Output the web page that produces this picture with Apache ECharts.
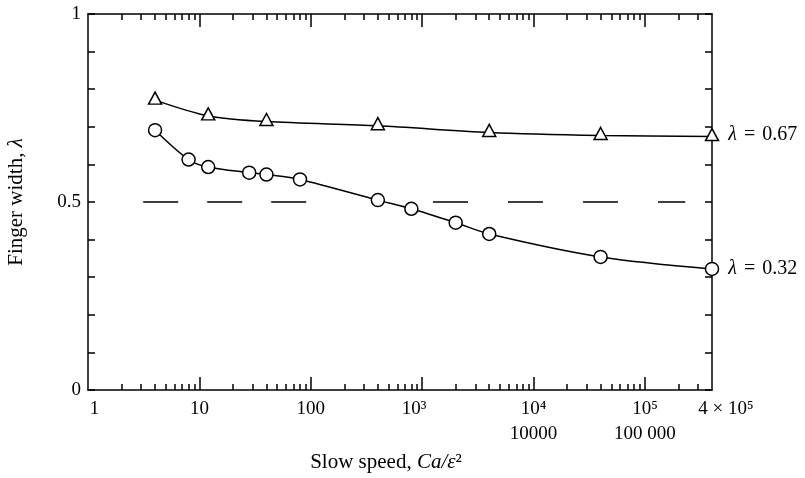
<!DOCTYPE html>
<html><head><meta charset="utf-8">
<script src="https://cdn.jsdelivr.net/npm/echarts@6/dist/echarts.min.js"></script>
<style>html,body{margin:0;padding:0;background:#fff}#c{width:805px;height:478px}</style>
</head><body><div id="c"></div>
<script>
// ---- data ----
const triX = [4, 12, 40, 400, 4000, 40000, 400000];
const triY = [0.771, 0.729, 0.714, 0.703, 0.685, 0.677, 0.674];
const circX = [4, 8, 12, 28, 40, 80, 400, 800, 2000, 4000, 40000, 400000];
const circY = [0.691, 0.613, 0.593, 0.578, 0.573, 0.560, 0.505, 0.482, 0.445, 0.415, 0.354, 0.322];
const dashX1 = [3.13, 98];
const dashX2 = [1250, 230000];
const dashLevel = 0.5;
const triLabel = 'λ = 0.67';
const circLabel = 'λ = 0.32';
// ---- axis ticks / labels ----
const xMin = 1, xMax = 400000;
const xMajorTicks = [10, 100, 1000, 10000, 100000];
const xMinorTicks = [2,3,4,5,6,7,8,9, 20,30,40,50,60,70,80,90,
  200,300,400,500,600,700,800,900, 2000,3000,4000,5000,6000,7000,8000,9000,
  20000,30000,40000,50000,60000,70000,80000,90000, 200000,300000];
const xLabelValues = [1, 10, 100, 1000, 10000, 100000];
const xLabelTexts = ['{l|1}', '{n|10}', '{n|100}', '{r|10³}', '{n|10⁴}\n{n|10000}', '{n|10⁵}\n{n|100 000}'];
const xEndLabelValues = [399990];
const xEndLabelTexts = ['{m|4 × 10⁵}'];
const yLabelValues = [0, 0.5, 1];
const yLabelTexts = ['0', '0.5', '1'];

const FONT = '"Liberation Serif", "DejaVu Serif", serif';
const BLACK = '#000';

function pairs(xs, ys) { return xs.map((x, i) => [x, ys[i]]); }
function labelFor(vals, texts, v) {
  for (let i = 0; i < vals.length; i++) if (Math.abs(vals[i] - v) <= Math.abs(vals[i]) * 1e-4 + 1e-9) return texts[i];
  return '';
}

const chart = echarts.init(document.getElementById('c'), null, {renderer: 'canvas'});
const gridPos = {left: 88, right: 93, top: 14, bottom: 88, outerBoundsMode: 'none', containLabel: false};
const axLine = {show: true, onZero: false, lineStyle: {color: BLACK, width: 1.5}};
const noLine = {show: false, onZero: false};
const xRich = {
  n: {fontFamily: FONT, fontSize: 19, lineHeight: 25, color: BLACK},
  l: {fontFamily: FONT, fontSize: 19, lineHeight: 25, color: BLACK, padding: [0, 0, 0, 13]},
  r: {fontFamily: FONT, fontSize: 19, lineHeight: 25, color: BLACK, padding: [0, 16, 0, 0]},
  m: {fontFamily: FONT, fontSize: 19, lineHeight: 25, color: BLACK, padding: [0, 0, 0, 28]}
};

function lastLabel(text) {
  return {
    show: true, position: 'right', distance: 9, color: BLACK,
    fontFamily: FONT, fontSize: 20,
    formatter: '{i|λ} {e|=} ' + text.split('= ')[1],
    rich: {
      i: {fontStyle: 'italic', fontFamily: FONT, fontSize: 20, color: BLACK},
      e: {fontFamily: FONT, fontSize: 20, color: BLACK, padding: [0, 2, 0, 2]}
    }
  };
}

const triData = pairs(triX, triY).map((p, i, a) => i === a.length - 1 ? {value: p, label: lastLabel(triLabel)} : p);
const circData = pairs(circX, circY).map((p, i, a) => i === a.length - 1 ? {value: p, label: lastLabel(circLabel)} : p);

const option = {
  backgroundColor: '#fff',
  animation: false,
  grid: [Object.assign({}, gridPos), Object.assign({}, gridPos)],
  xAxis: [
    { // bottom major + labels
      type: 'log', logBase: 10, min: xMin, max: xMax, gridIndex: 0, position: 'bottom',
      axisLine: axLine, splitLine: {show: false},
      axisTick: {show: true, inside: true, length: 13, customValues: xMajorTicks, lineStyle: {color: BLACK, width: 1.5}},
      axisLabel: {
        show: true, customValues: xLabelValues, showMinLabel: true,
        margin: 7, color: BLACK, fontFamily: FONT, fontSize: 19, lineHeight: 25,
        formatter: v => labelFor(xLabelValues, xLabelTexts, v),
        rich: xRich
      }
    },
    { // top major
      type: 'log', logBase: 10, min: xMin, max: xMax, gridIndex: 0, position: 'top',
      axisLine: axLine, splitLine: {show: false}, axisLabel: {show: false},
      axisTick: {show: true, inside: true, length: 13, customValues: xMajorTicks, lineStyle: {color: BLACK, width: 1.5}}
    },
    { // bottom minor + end label
      type: 'log', logBase: 10, min: xMin, max: xMax, gridIndex: 1, position: 'bottom',
      axisLine: noLine, splitLine: {show: false},
      axisTick: {show: true, inside: true, length: 6, customValues: xMinorTicks, lineStyle: {color: BLACK, width: 1.5}},
      axisLabel: {
        show: true, customValues: xEndLabelValues, showMaxLabel: true,
        margin: 7, color: BLACK, fontFamily: FONT, fontSize: 19, lineHeight: 25,
        formatter: v => labelFor(xEndLabelValues, xEndLabelTexts, v),
        rich: xRich
      }
    },
    { // top minor
      type: 'log', logBase: 10, min: xMin, max: xMax, gridIndex: 1, position: 'top',
      axisLine: noLine, splitLine: {show: false}, axisLabel: {show: false},
      axisTick: {show: true, inside: true, length: 6, customValues: xMinorTicks, lineStyle: {color: BLACK, width: 1.5}}
    }
  ],
  yAxis: [
    {
      type: 'value', min: 0, max: 1, interval: 0.1, gridIndex: 0, position: 'left',
      axisLine: axLine, splitLine: {show: false},
      axisTick: {show: true, inside: true, length: 7, lineStyle: {color: BLACK, width: 1.5}},
      axisLabel: {show: true, customValues: yLabelValues, margin: 7, color: BLACK, fontFamily: FONT, fontSize: 19,
        formatter: v => labelFor(yLabelValues, yLabelTexts, v)}
    },
    {
      type: 'value', min: 0, max: 1, interval: 0.1, gridIndex: 0, position: 'right',
      axisLine: axLine, splitLine: {show: false}, axisLabel: {show: false},
      axisTick: {show: true, inside: true, length: 7, lineStyle: {color: BLACK, width: 1.5}}
    },
    {type: 'value', min: 0, max: 1, gridIndex: 1, show: false, axisLine: noLine}
  ],
  series: [
    {
      type: 'line', xAxisIndex: 0, yAxisIndex: 0, data: pairs(dashX1, dashX1.map(() => dashLevel)),
      symbol: 'none', silent: true, z: 1,
      lineStyle: {color: BLACK, width: 1.5, type: [35, 29]}
    },
    {
      type: 'line', xAxisIndex: 0, yAxisIndex: 0, data: pairs(dashX2, dashX2.map(() => dashLevel)),
      symbol: 'none', silent: true, z: 1,
      lineStyle: {color: BLACK, width: 1.5, type: [35, 40]}
    },
    {
      type: 'line', xAxisIndex: 0, yAxisIndex: 0, data: triData, smooth: 0.3, clip: false, z: 3,
      symbol: 'triangle', symbolSize: [13, 12], symbolOffset: [0, -2], showAllSymbol: true,
      lineStyle: {color: BLACK, width: 1.5},
      itemStyle: {color: '#fff', borderColor: BLACK, borderWidth: 1.5}
    },
    {
      type: 'line', xAxisIndex: 0, yAxisIndex: 0, data: circData, smooth: 0.3, clip: false, z: 3,
      symbol: 'circle', symbolSize: 13, showAllSymbol: true,
      lineStyle: {color: BLACK, width: 1.5},
      itemStyle: {color: '#fff', borderColor: BLACK, borderWidth: 1.5}
    }
  ],
  graphic: [
    {
      type: 'text', x: 386, y: 462,
      style: {
        text: '{n|Slow speed, }{i|Ca/ε}{s|²}', fill: BLACK, align: 'center', verticalAlign: 'middle',
        rich: {
          n: {fontFamily: FONT, fontSize: 21, fill: BLACK, color: BLACK},
          i: {fontFamily: FONT, fontSize: 21, fontStyle: 'italic', fill: BLACK, color: BLACK},
          s: {fontFamily: FONT, fontSize: 21, fill: BLACK, color: BLACK}
        }
      }
    },
    {
      type: 'text', x: 16, y: 202, rotation: Math.PI / 2,
      style: {
        text: '{n|Finger width, }{i|λ}', fill: BLACK, align: 'center', verticalAlign: 'middle',
        rich: {
          n: {fontFamily: FONT, fontSize: 21, fill: BLACK, color: BLACK},
          i: {fontFamily: FONT, fontSize: 21, fontStyle: 'italic', fill: BLACK, color: BLACK}
        }
      }
    }
  ]
};
chart.setOption(option);
</script>
</body></html>
